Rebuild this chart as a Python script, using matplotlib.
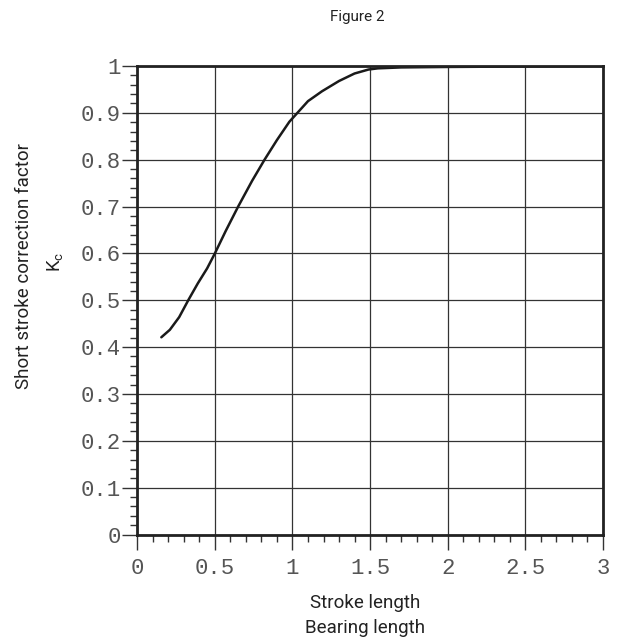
import matplotlib
matplotlib.use("Agg")
import matplotlib.pyplot as plt
from matplotlib.ticker import MultipleLocator

# Data
stroke_ratio = [0.155, 0.21, 0.27, 0.33, 0.39, 0.45, 0.50, 0.57, 0.65, 0.74, 0.82, 0.90,
                0.98, 1.04, 1.10, 1.19, 1.30, 1.40, 1.49, 1.55, 1.70, 2.00, 2.50, 3.00]
kc = [0.421, 0.437, 0.464, 0.501, 0.536, 0.568, 0.600, 0.648, 0.700, 0.755, 0.800, 0.842,
      0.881, 0.903, 0.925, 0.946, 0.968, 0.984, 0.9925, 0.995, 0.997, 0.998, 0.999, 1.000]
x_ticks = [0, 0.5, 1, 1.5, 2, 2.5, 3]
x_tick_labels = ["0", "0.5", "1", "1.5", "2", "2.5", "3"]
y_ticks = [0, 0.1, 0.2, 0.3, 0.4, 0.5, 0.6, 0.7, 0.8, 0.9, 1.0]
y_tick_labels = ["0", "0.1", "0.2", "0.3", "0.4", "0.5", "0.6", "0.7", "0.8", "0.9", "1"]

label_font = ["Liberation Sans Narrow", "Roboto", "DejaVu Sans"]
mono_font = ["Liberation Mono", "DejaVu Sans Mono"]

fig = plt.figure(figsize=(6.26, 6.44), dpi=100)
ax = fig.add_axes([0.2193, 0.170, 0.7437, 0.7275])

ax.plot(stroke_ratio, kc, color="#1a1a1a", lw=1.8, solid_capstyle="round",
        solid_joinstyle="round")

ax.set_xlim(0, 3)
ax.set_ylim(0, 1)
ax.set_xticks(x_ticks)
ax.set_xticklabels(x_tick_labels)
ax.set_yticks(y_ticks)
ax.set_yticklabels(y_tick_labels)
ax.xaxis.set_minor_locator(MultipleLocator(0.1))
ax.yaxis.set_minor_locator(MultipleLocator(0.02))
ax.grid(True, which="major", color="#333333", lw=0.9)
ax.set_axisbelow(True)

for lab in ax.get_xticklabels() + ax.get_yticklabels():
    lab.set_fontfamily(mono_font)
    lab.set_fontsize(16)
    lab.set_color("#555555")

ax.tick_params(axis="both", which="major", direction="out", length=11, width=1.0,
               color="#333333", pad=4)
ax.tick_params(axis="both", which="minor", direction="out", length=5, width=1.0,
               color="#333333")
ax.tick_params(axis="x", which="major", pad=6)
ax.tick_params(axis="y", which="major", pad=1)

for sp in ax.spines.values():
    sp.set_linewidth(2.0)
    sp.set_color("#222222")

fig.text(357 / 626, 1 - 17 / 644, "Figure 2", ha="center", va="center",
         fontsize=11, family=label_font, color="#222222")
fig.text(365 / 626, 1 - 603 / 644, "Stroke length", ha="center", va="center",
         fontsize=13.5, family=label_font, color="#222222")
fig.text(365 / 626, 1 - 628 / 644, "Bearing length", ha="center", va="center",
         fontsize=13.5, family=label_font, color="#222222")
fig.text(24 / 626, 1 - 266 / 644, "Short stroke correction factor", ha="center",
         va="center", rotation=90, fontsize=13.5, family=label_font, color="#222222")
fig.text(55 / 626, 1 - 262 / 644, r"$\mathregular{K_c}$", ha="center",
         va="center", rotation=90, fontsize=13.5, family=label_font, color="#222222")

fig.savefig("out.png", dpi=100)
